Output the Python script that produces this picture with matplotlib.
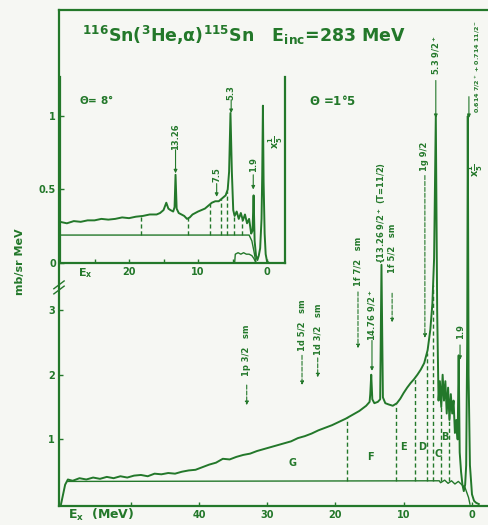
import matplotlib.pyplot as plt
import matplotlib.transforms as mtransforms
import numpy as np

GREEN = '#23782a'
PAPER = '#f6f7f3'

# theta = 1.5 deg spectrum, Ex (MeV) vs d2sigma (mb/sr MeV); peaks below 6 MeV are x1/5
ex_main = [60.2, 60.0, 59.6, 59.2, 58.5, 57.5, 56.5, 55.5, 54.5, 53.5, 52.5, 51.5,
           50.5, 49.5, 48.5, 47.5, 46.5, 45.5, 44.5, 43.5, 42.5, 41.5, 40.5, 39.5,
           38.5, 37.5, 36.5, 35.5, 34.5, 33.5, 32.5, 31.5, 30.5, 29.5, 28.5, 27.5,
           26.5, 25.5, 24.5, 23.5, 22.5, 21.5, 20.5, 19.5, 18.5, 17.5, 16.5, 15.5,
           15.0, 14.9, 14.76, 14.6, 14.3, 13.8, 13.45, 13.26, 13.05, 12.7, 12.2,
           11.6, 11.0, 10.5, 10.0, 9.5, 9.0, 8.5, 8.0, 7.5, 7.0, 6.5, 6.1, 5.8,
           5.55, 5.3, 5.1, 4.9, 4.7, 4.5, 4.3, 4.1, 3.9, 3.7, 3.5, 3.3, 3.1, 2.9,
           2.7, 2.5, 2.3, 2.1, 1.95, 1.8, 1.6, 1.4, 1.2, 1.0, 0.85, 0.7, 0.614,
           0.5, 0.3, 0.0, -0.3, -0.6, -1.0]
xs_main = [0.0, 0.10, 0.30, 0.38, 0.36, 0.40, 0.38, 0.41, 0.39, 0.42, 0.40, 0.43,
           0.41, 0.44, 0.45, 0.43, 0.47, 0.46, 0.48, 0.47, 0.50, 0.52, 0.53, 0.57,
           0.61, 0.64, 0.70, 0.69, 0.73, 0.76, 0.78, 0.82, 0.85, 0.88, 0.91, 0.94,
           0.97, 1.02, 1.05, 1.09, 1.14, 1.18, 1.22, 1.27, 1.32, 1.38, 1.44, 1.52,
           1.58, 1.70, 2.00, 1.62, 1.56, 1.58, 1.62, 3.70, 1.65, 1.56, 1.54,
           1.52, 1.56, 1.63, 1.72, 1.80, 1.87, 1.93, 2.00, 2.08, 2.18, 2.38, 2.70, 3.10,
           3.80, 6.00, 3.00, 1.60, 1.90, 1.50, 2.00, 1.60, 1.90, 1.40, 1.80, 1.30, 1.70, 1.40,
           1.60, 1.10, 1.30, 1.00, 2.30, 0.80, 0.50, 0.30, 0.20, 0.30, 0.60, 2.50, 6.00,
           2.00, 0.60, 0.15, 0.05, 0.02, 0.0]

ex_bg_main = [59.2, 4.8, 4.6, 4.0, 3.5, 3.0, 2.5, 2.0, 1.5, 1.0, 0.5, 0.3]
bg_main = [0.35, 0.36, 0.33, 0.37, 0.32, 0.36, 0.31, 0.35, 0.30, 0.25, 0.10, 0.0]

# theta = 8 deg spectrum (inset)
ex_in = [30.0, 29, 28, 27, 26, 25, 24, 23, 22, 21, 20, 19, 18, 17, 16, 15.5, 15.0,
         14.6, 14.3, 14.0, 13.6, 13.4, 13.26, 13.1, 12.8, 12.4, 12.0, 11.6, 11.2,
         10.8, 10.4, 10.0, 9.5, 9.0, 8.5, 8.0, 7.5, 7.0, 6.5, 6.0, 5.7, 5.5, 5.3,
         5.1, 4.9, 4.7, 4.4, 4.1, 3.8, 3.5, 3.2, 2.9, 2.6, 2.3, 2.1, 1.95, 1.8,
         1.6, 1.4, 1.2, 1.0, 0.8, 0.7, 0.6, 0.5, 0.35, 0.2, 0.0, -0.3, -0.6]
xs_in = [0.28, 0.27, 0.285, 0.28, 0.29, 0.29, 0.30, 0.295, 0.30, 0.31, 0.305, 0.315,
         0.32, 0.33, 0.33, 0.34, 0.36, 0.41, 0.37, 0.36, 0.35, 0.38, 0.60, 0.37,
         0.34, 0.33, 0.32, 0.30, 0.31, 0.33, 0.34, 0.35, 0.36, 0.37, 0.39, 0.41,
         0.42, 0.42, 0.44, 0.46, 0.50, 0.62, 1.02, 0.62, 0.36, 0.32, 0.35, 0.30,
         0.34, 0.29, 0.33, 0.27, 0.30, 0.20, 0.22, 0.46, 0.15, 0.05, 0.02, 0.05,
         0.10, 0.30, 0.60, 1.07, 0.55, 0.20, 0.06, 0.01, 0.0, 0.0]
ex_bg_in = [30.0, 2.6, 2.2, 1.9, 1.6]
bg_in = [0.19, 0.19, 0.15, 0.08, 0.0]
ex_sub_in = [4.7, 4.6, 4.2, 3.8, 3.4, 3.0, 2.6, 2.2, 1.9, 1.6]
sub_in = [0.0, 0.06, 0.07, 0.06, 0.07, 0.06, 0.06, 0.05, 0.03, 0.0]

# bin edges (MeV) and bin names
bin_edges_main = [18.3, 11.2, 8.3, 6.6, 5.7, 4.5, 3.4]
bin_edges_in = [18.3, 11.4, 8.2, 6.7, 5.8, 4.8, 3.6]
bin_names = ['G', 'F', 'E', 'D', 'C', 'B']
bin_name_ex = [26.3, 14.9, 10.0, 7.3, 5.0, 4.0]
bin_name_y = [0.64, 0.73, 0.88, 0.88, 0.78, 1.03]

# level labels: (Ex, text, text centre, arrow start, arrow tip, dashed, size)
levels_main = [
    (33.0, '1p 3/2   sm', 2.38, 1.84, 1.53, True, 6),
    (24.9, '1d 5/2   sm', 2.77, 2.30, 1.84, True, 6),
    (22.6, '1d 3/2   sm', 2.70, 2.26, 1.96, True, 6),
    (16.7, '1f 7/2   sm', 3.75, 3.28, 2.41, True, 6),
    (14.65, '14.76 9/2$^+$', 2.92, 2.53, 2.06, False, 6),
    (13.3, '{13.26 9/2$^+$ (T=11/2)', 4.50, None, None, False, 6),
    (11.7, '1f 5/2   sm', 3.95, 3.26, 2.81, True, 6),
    (6.9, '1g 9/2', 5.37, 5.08, 2.57, True, 6),
    (5.3, '5.3 9/2$^+$', 6.95, 6.55, 5.97, False, 6),
    (1.75, '1.9', 2.67, 2.46, 2.23, False, 6),
]
levels_in = [
    (13.26, '13.26', 0.86, 0.77, 0.61),
    (7.3, '7.5', 0.60, 0.54, 0.45),
    (5.2, '5.3', 1.16, 1.11, 1.02),
    (2.0, '1.9', 0.67, 0.60, 0.50),
]

plt.rcParams['font.family'] = 'DejaVu Sans'
plt.rcParams['font.weight'] = 'bold'
plt.rcParams['mathtext.default'] = 'regular'

fig = plt.figure(figsize=(4.88, 5.25), dpi=100)
fig.patch.set_facecolor(PAPER)

ax = fig.add_axes([59 / 488, 19 / 525, 428 / 488, 496 / 525])
ax.set_facecolor(PAPER)
ax.set_xlim(60.5, -2.2)
ax.set_ylim(-0.03, 7.64)

ax.plot(ex_main, xs_main, color=GREEN, lw=1.4)
ax.plot(ex_bg_main, bg_main, color=GREEN, lw=1.0)
for e in bin_edges_main:
    top = np.interp(e, ex_main[::-1], xs_main[::-1])
    ax.plot([e, e], [0.35, top], color=GREEN, lw=1.0, ls=(0, (3, 2)))
for name, e, y in zip(bin_names, bin_name_ex, bin_name_y):
    ax.text(e, y, name, color=GREEN, fontsize=7, ha='center', va='center')

for e, lab, ty, a0, a1, dashed, fs in levels_main:
    ax.text(e, ty, lab, rotation=90, color=GREEN, fontsize=fs, ha='center', va='center')
    if a0 is not None:
        ax.annotate('', xy=(e, a1), xytext=(e, a0),
                    arrowprops=dict(arrowstyle='-|>', color=GREEN, lw=0.8,
                                    ls='--' if dashed else '-',
                                    mutation_scale=5, shrinkA=0, shrinkB=0))
ax.text(-0.9, 6.76, '0.614 7/2$^+$ + 0.714 11/2$^-$', rotation=90, color=GREEN,
        fontsize=4.6, ha='center', va='center')
ax.annotate('', xy=(0.45, 5.97), xytext=(0.45, 6.3),
            arrowprops=dict(arrowstyle='-|>', color=GREEN, lw=0.8,
                            mutation_scale=5, shrinkA=0, shrinkB=0))
ax.text(-0.6, 5.16, r'x$\frac{1}{5}$', rotation=90, color=GREEN, fontsize=7,
        ha='center', va='center')

ax.text(57.1, 7.25, r'$^{116}$Sn($^{3}$He,$\alpha$)$^{115}$Sn   E$_{inc}$=283 MeV',
        color=GREEN, fontsize=12.5, ha='left', va='center')
ax.text(20.4, 6.24, r'$\Theta$ =1°5', color=GREEN, fontsize=8.5, ha='center', va='center')

ax.set_yticks([1, 2, 3])
ax.set_yticklabels(['1', '2', '3'])
ax.set_xticks([50, 40, 30, 20, 10, 0])
ax.set_xticklabels(['', '40', '30', '20', '10', '0'])
ax.tick_params(direction='in', length=3, width=1, colors=GREEN, labelsize=7, pad=3)
for side in ['left', 'bottom', 'top']:
    ax.spines[side].set_color(GREEN)
    ax.spines[side].set_linewidth(1.6)
ax.spines['right'].set_visible(False)

# axis break on the left spine
trans = mtransforms.blended_transform_factory(ax.transAxes, ax.transData)
for y0 in [3.25, 3.33]:
    ax.plot([-0.012, 0.012], [y0, y0 + 0.12], transform=trans, color=GREEN,
            lw=1.0, clip_on=False)

# theta = 8 deg inset
ins = fig.add_axes([60 / 488, 262 / 525, 225 / 488, 186 / 525])
ins.set_facecolor('none')
ins.set_xlim(30.0, -2.6)
ins.set_ylim(0, 1.265)
ins.plot(ex_in, xs_in, color=GREEN, lw=1.4)
ins.plot(ex_bg_in, bg_in, color=GREEN, lw=1.0)
ins.plot(ex_sub_in, sub_in, color=GREEN, lw=1.0)
for e in bin_edges_in:
    top = np.interp(e, ex_in[::-1], xs_in[::-1])
    ins.plot([e, e], [0.19, top], color=GREEN, lw=1.0, ls=(0, (3, 2)))
for e, lab, ty, a0, a1 in levels_in:
    ins.text(e, ty, lab, rotation=90, color=GREEN, fontsize=6, ha='center', va='center')
    ins.annotate('', xy=(e, a1), xytext=(e, a0),
                 arrowprops=dict(arrowstyle='-|>', color=GREEN, lw=0.8,
                                 mutation_scale=5, shrinkA=0, shrinkB=0))
ins.text(-1.3, 0.82, r'x$\frac{1}{5}$', rotation=90, color=GREEN, fontsize=7,
         ha='center', va='center')
ins.text(24.8, 1.11, r'$\Theta$= 8°', color=GREEN, fontsize=7.5, ha='center', va='center')

ins.set_yticks([0, 0.5, 1])
ins.set_yticklabels(['0', '0.5', '1'])
ins.set_xticks([25, 20, 15, 10, 5, 0])
ins.set_xticklabels(['', '20', '', '10', '', '0'])
ins.tick_params(direction='in', length=3, width=1, colors=GREEN, labelsize=7, pad=3)
for side in ['bottom', 'right', 'left']:
    ins.spines[side].set_color(GREEN)
    ins.spines[side].set_linewidth(1.6)
ins.spines['top'].set_visible(False)

fig.text(20 / 488, 1 - 262 / 525, 'mb/sr MeV', rotation=90, color=GREEN, fontsize=8,
         ha='center', va='center')
fig.text(68 / 488, 1 - 515 / 525, 'E$_x$  (MeV)', color=GREEN, fontsize=9,
         ha='left', va='center')
fig.text(78 / 488, 1 - 273 / 525, 'E$_x$', color=GREEN, fontsize=8,
         ha='left', va='center')

fig.savefig('out.png', dpi=100, facecolor=PAPER)
